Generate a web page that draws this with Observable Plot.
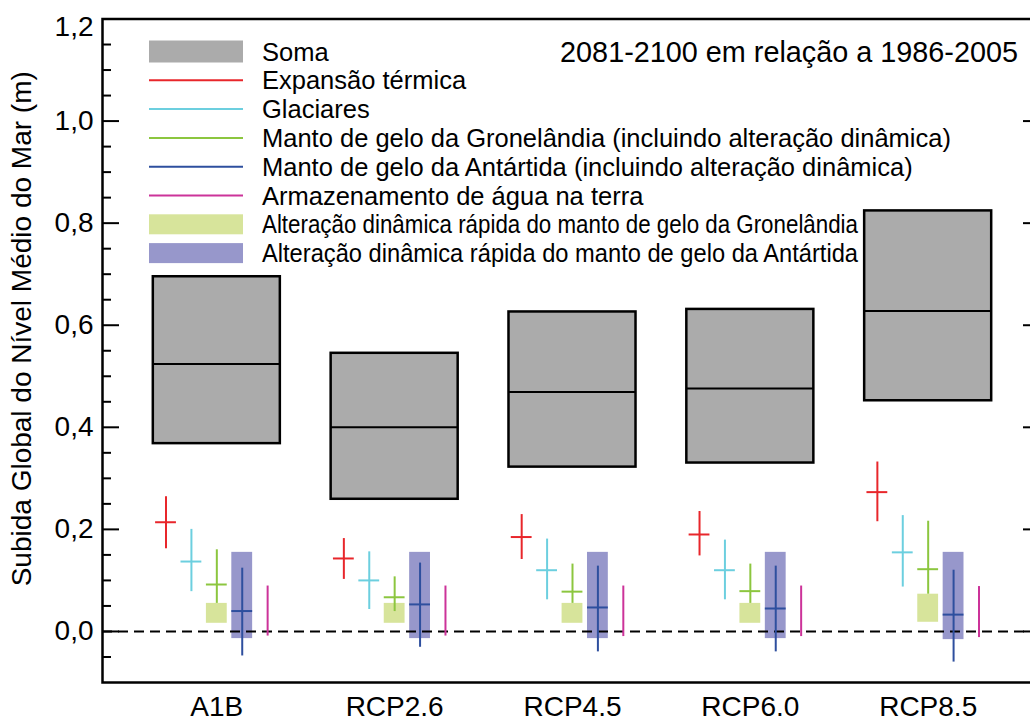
<!DOCTYPE html>
<html><head><meta charset="utf-8">
<script src="https://cdn.jsdelivr.net/npm/d3@7"></script>
<script src="https://cdn.jsdelivr.net/npm/@observablehq/plot@0.6"></script>
<style>
html,body{margin:0;padding:0;background:#fff;overflow:hidden}
#wrap{position:relative;width:1030px;height:721px;overflow:hidden}
#wrap svg{position:absolute;left:0;top:0}
#legend{pointer-events:none}
</style></head><body><div id="wrap"></div>
<script>
// ---------- data ----------
const scenarios = ["A1B", "RCP2.6", "RCP4.5", "RCP6.0", "RCP8.5"];

const somaLow  = [0.368, 0.259, 0.322, 0.330, 0.452];
const somaMid  = [0.524, 0.400, 0.469, 0.476, 0.628];
const somaHigh = [0.695, 0.545, 0.626, 0.631, 0.824];

const expLow  = [0.162, 0.102, 0.141, 0.148, 0.215];
const expMid  = [0.214, 0.143, 0.185, 0.190, 0.273];
const expHigh = [0.264, 0.182, 0.229, 0.235, 0.332];

const glaLow  = [0.078, 0.043, 0.062, 0.062, 0.087];
const glaMid  = [0.137, 0.100, 0.120, 0.120, 0.155];
const glaHigh = [0.200, 0.156, 0.181, 0.179, 0.227];

const greLow  = [0.055, 0.039, 0.055, 0.055, 0.073];
const greMid  = [0.092, 0.067, 0.078, 0.079, 0.122];
const greHigh = [0.160, 0.107, 0.132, 0.132, 0.216];

const antLow  = [-0.048, -0.031, -0.040, -0.040, -0.060];
const antMid  = [0.040, 0.053, 0.047, 0.045, 0.033];
const antHigh = [0.124, 0.134, 0.128, 0.128, 0.120];

const landLow  = [-0.009, -0.009, -0.010, -0.010, -0.012];
const landHigh = [0.089, 0.089, 0.089, 0.089, 0.088];

const greRapidLow  = [0.016, 0.016, 0.016, 0.016, 0.018];
const greRapidHigh = [0.055, 0.055, 0.055, 0.055, 0.073];
const antRapidLow  = [-0.014, -0.014, -0.014, -0.014, -0.016];
const antRapidHigh = [0.155, 0.155, 0.155, 0.155, 0.155];

const somaLabel = "Soma";
const compNames = [
  "Expansão térmica",
  "Glaciares",
  "Manto de gelo da Gronelândia (incluindo alteração dinâmica)",
  "Manto de gelo da Antártida (incluindo alteração dinâmica)",
  "Armazenamento de água na terra"
];
const compColors = ["#e8262b", "#6ccfdf", "#8cc63f", "#2e4f9e", "#cc3399"];
const rapidNames = [
  "Alteração dinâmica rápida do manto de gelo da Gronelândia",
  "Alteração dinâmica rápida do manto de gelo da Antártida"
];
const rapidColors = ["#d7e49b", "#9797cb"];
const rapidSlot = [2, 3];

const majorTicks = [0.0, 0.2, 0.4, 0.6, 0.8, 1.0, 1.2];
const minorTicks = [-0.05, 0.05, 0.1, 0.15, 0.25, 0.3, 0.35, 0.45, 0.5, 0.55, 0.65, 0.7, 0.75, 0.85, 0.9, 0.95, 1.05, 1.1, 1.15];
const yLabel = "Subida Global do Nível Médio do Mar (m)";
const title = "2081-2100 em relação a 1986-2005";

// ---------- build tables ----------
const SLOTS = 7;      // slot stride between scenario groups
const HALF = 0.41;    // half width of tick/box in slot units
const FONT = "'Liberation Sans', Arial, Helvetica, sans-serif";

const lows = [expLow, glaLow, greLow, antLow, landLow];
const mids = [expMid, glaMid, greMid, antMid, null];
const highs = [expHigh, glaHigh, greHigh, antHigh, landHigh];

const soma = scenarios.map((s, g) => ({scenario: s, g, low: somaLow[g], mid: somaMid[g], high: somaHigh[g]}));
const rows = [];
scenarios.forEach((s, g) => compNames.forEach((name, c) => rows.push({
  scenario: s, g, slot: g * SLOTS + c, comp: name,
  low: lows[c][g], mid: mids[c] ? mids[c][g] : null, high: highs[c][g]
})));
const rapid = [];
scenarios.forEach((s, g) => {
  rapid.push({scenario: s, slot: g * SLOTS + rapidSlot[0], comp: rapidNames[0], low: greRapidLow[g], high: greRapidHigh[g]});
  rapid.push({scenario: s, slot: g * SLOTS + rapidSlot[1], comp: rapidNames[1], low: antRapidLow[g], high: antRapidHigh[g]});
});
const labelSlots = scenarios.map((s, g) => g * SLOTS + 2);
const fmt = v => v.toFixed(1).replace(".", ",");

const chart = Plot.plot({
  width: 1030, height: 721,
  marginLeft: 102, marginRight: -12, marginTop: 18.5, marginBottom: 39,
  style: {fontFamily: FONT, fontSize: "28px", background: "white", color: "#000", overflow: "hidden"},
  x: {domain: [-2.5, 34.5]},
  y: {domain: [-0.1, 1.2]},
  color: {domain: [...compNames, ...rapidNames], range: [...compColors, ...rapidColors]},
  marks: [
    Plot.rect(soma, {x1: d => d.g * SLOTS - 0.5, x2: d => d.g * SLOTS + 4.5, y1: "low", y2: "high", fill: "#ababab", stroke: "#000", strokeWidth: 2.5}),
    Plot.ruleY(soma, {x1: d => d.g * SLOTS - 0.5, x2: d => d.g * SLOTS + 4.5, y: "mid", stroke: "#000", strokeWidth: 2}),
    Plot.rect(rapid, {x1: d => d.slot - HALF, x2: d => d.slot + HALF, y1: "low", y2: "high", fill: "comp"}),
    Plot.ruleY([0], {stroke: "#000", strokeWidth: 2, strokeDasharray: "10,6"}),
    Plot.ruleX(rows, {x: "slot", y1: "low", y2: "high", stroke: "comp", strokeWidth: 2}),
    Plot.ruleY(rows.filter(d => d.mid != null), {x1: d => d.slot - HALF, x2: d => d.slot + HALF, y: "mid", stroke: "comp", strokeWidth: 2}),
    Plot.frame({stroke: "#000", strokeWidth: 2.5}),
    Plot.axisY(majorTicks, {tickSize: -17, strokeWidth: 2, tickFormat: () => "", label: null}),
    Plot.axisY(minorTicks, {tickSize: -9, strokeWidth: 2, tickFormat: () => "", label: null}),
    Plot.axisY(majorTicks, {anchor: "right", tickSize: -20, strokeWidth: 2, tickFormat: () => "", label: null}),
    Plot.axisY(majorTicks.filter(v => v < 1.2), {tickSize: 0, tickPadding: 9, tickFormat: fmt, fontSize: 28, label: null}),
    Plot.axisY(majorTicks.filter(v => v >= 1.2), {tickSize: 0, tickPadding: 9, tickFormat: fmt, fontSize: 28, dy: 8, label: null}),
    Plot.axisX(labelSlots, {tickSize: 0, tickPadding: 14, tickFormat: v => scenarios[labelSlots.indexOf(v)], fontSize: 28, label: null}),
    Plot.text([yLabel], {frameAnchor: "left", textAnchor: "middle", rotate: -90, dx: -80, dy: -22, fontSize: 28})
  ]
});
const wrap = document.getElementById("wrap");
wrap.appendChild(chart);

// ---------- legend + title overlay ----------
const legendItems = [
  {label: somaLabel, kind: "box", color: "#ababab", h: 22},
  ...compNames.map((n, i) => ({label: n, kind: "line", color: compColors[i]})),
  ...rapidNames.map((n, i) => ({label: n, kind: "box", color: rapidColors[i], h: 20, fit: true}))
];
const svg = d3.create("svg").attr("id", "legend").attr("width", 1030).attr("height", 721)
  .style("font-family", FONT);
legendItems.forEach((it, i) => {
  const cy = 51.5 + i * 28.8;
  if (it.kind === "box") {
    svg.append("rect").attr("x", 149).attr("y", cy - it.h / 2).attr("width", 94).attr("height", it.h).attr("fill", it.color);
  } else {
    svg.append("line").attr("x1", 149).attr("x2", 243).attr("y1", cy).attr("y2", cy).attr("stroke", it.color).attr("stroke-width", 2);
  }
  const t = svg.append("text").attr("x", 262).attr("y", cy).attr("dy", "0.36em").attr("font-size", 25.5).attr("fill", "#000").text(it.label);
  if (it.fit) t.attr("textLength", 858 - 262).attr("lengthAdjust", "spacingAndGlyphs");
});
svg.append("text").attr("x", 1018).attr("y", 52).attr("dy", "0.36em").attr("text-anchor", "end")
  .attr("font-size", 28.8).attr("fill", "#000").text(title);
wrap.appendChild(svg.node());
</script></body></html>
